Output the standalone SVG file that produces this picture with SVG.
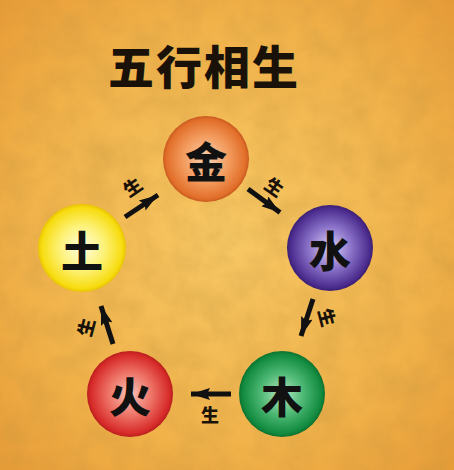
<svg xmlns="http://www.w3.org/2000/svg" width="454" height="470" viewBox="0 0 454 470">
<defs>
<radialGradient id="bg" cx="50%" cy="50%" r="75%">
<stop offset="0" stop-color="#F7C865"/>
<stop offset="0.6" stop-color="#F1B24A"/>
<stop offset="1" stop-color="#E69834"/>
</radialGradient>
<filter id="tex" x="0" y="0" width="100%" height="100%">
<feTurbulence type="fractalNoise" baseFrequency="0.035" numOctaves="4" seed="3"/>
<feColorMatrix type="matrix" values="0 0 0 0 0.55  0 0 0 0 0.3  0 0 0 0 0.05  0 0 0 -1.6 1.1"/>
</filter>
<radialGradient id="gJin" cx="50%" cy="50%" r="50%">
<stop offset="0" stop-color="#FBD2B0"/>
<stop offset="0.55" stop-color="#F29A5C"/>
<stop offset="0.92" stop-color="#E26F2A"/>
<stop offset="1" stop-color="#C95A20"/>
</radialGradient>
<radialGradient id="gShui" cx="50%" cy="50%" r="50%">
<stop offset="0" stop-color="#DCD2F6"/>
<stop offset="0.5" stop-color="#8A72C8"/>
<stop offset="0.92" stop-color="#4B2C8E"/>
<stop offset="1" stop-color="#3A1F72"/>
</radialGradient>
<radialGradient id="gTu" cx="50%" cy="50%" r="50%">
<stop offset="0" stop-color="#FFFCE0"/>
<stop offset="0.5" stop-color="#FDF27A"/>
<stop offset="0.92" stop-color="#F7DC10"/>
<stop offset="1" stop-color="#E8C400"/>
</radialGradient>
<radialGradient id="gHuo" cx="50%" cy="50%" r="50%">
<stop offset="0" stop-color="#F9C2B6"/>
<stop offset="0.5" stop-color="#EE7468"/>
<stop offset="0.92" stop-color="#D62A28"/>
<stop offset="1" stop-color="#B81E1E"/>
</radialGradient>
<radialGradient id="gMu" cx="50%" cy="50%" r="50%">
<stop offset="0" stop-color="#B8E6C4"/>
<stop offset="0.5" stop-color="#4DB874"/>
<stop offset="0.92" stop-color="#118A3E"/>
<stop offset="1" stop-color="#0C7030"/>
</radialGradient>
<marker id="ah" markerUnits="userSpaceOnUse" markerWidth="19" markerHeight="12" refX="19" refY="6" orient="auto">
<path d="M0,0 L19,6 L0,12 L3,6 z" fill="#111"/>
</marker>
<style>
.el { font-family: "Noto Sans CJK SC", "Noto Sans CJK TC", sans-serif; font-weight: 900; font-size: 42px; fill: #111; text-anchor: middle; dominant-baseline: central; }
.lb { font-family: "Noto Sans CJK SC", "Noto Sans CJK TC", sans-serif; font-weight: 900; font-size: 18px; fill: #1a1208; text-anchor: middle; dominant-baseline: central; }
.ar { stroke: #111; stroke-width: 5; fill: none; marker-end: url(#ah); }
.title { font-family: "Noto Sans CJK SC", "Noto Sans CJK TC", sans-serif; font-weight: 900; font-size: 46px; fill: #1a1208; text-anchor: middle; dominant-baseline: central; letter-spacing: 2px; }
</style>
</defs>
<rect width="454" height="470" fill="url(#bg)"/>
<rect width="454" height="470" filter="url(#tex)" opacity="0.35"/>
<text id="title" class="title" x="204" y="64">五行相生</text>
<g id="jin"><circle cx="206" cy="159" r="43" fill="url(#gJin)"/><text class="el" x="206" y="159">金</text></g>
<g id="shui"><circle cx="330" cy="248" r="43" fill="url(#gShui)"/><text class="el" x="330" y="248">水</text></g>
<g id="mu"><circle cx="282" cy="394" r="43" fill="url(#gMu)"/><text class="el" x="282" y="394">木</text></g>
<g id="huo"><circle cx="130" cy="394" r="43" fill="url(#gHuo)"/><text class="el" x="130" y="394">火</text></g>
<g id="tu"><circle cx="82" cy="248" r="44" fill="url(#gTu)"/><text class="el" x="82" y="248">土</text></g>
<g id="connectors">
<line class="ar" x1="125" y1="217" x2="158" y2="195"/>
<line class="ar" x1="248" y1="189" x2="280" y2="212.5"/>
<line class="ar" x1="313" y1="299" x2="301" y2="336"/>
<line class="ar" x1="231" y1="394" x2="191" y2="394"/>
<line class="ar" x1="113" y1="344" x2="101" y2="306"/>
<text class="lb" transform="translate(132,186) rotate(-34)">生</text>
<text class="lb" transform="translate(275,186) rotate(35)">生</text>
<text class="lb" transform="translate(328,317) rotate(75)">生</text>
<text class="lb" transform="translate(85,327) rotate(-75)">生</text>
<text class="lb" x="210" y="414">生</text>
</g>
</svg>
